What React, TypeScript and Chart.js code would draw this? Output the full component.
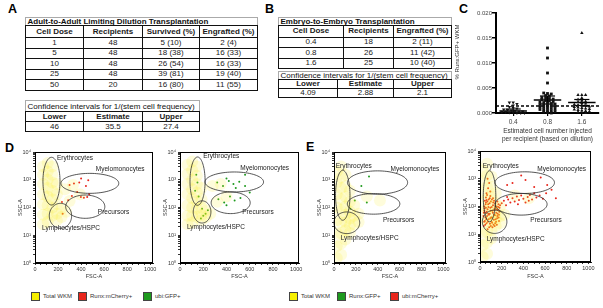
import React, { useEffect, useRef } from 'react';
import { Chart, registerables } from 'chart.js';

Chart.register(...registerables);

const FONT = "'Liberation Sans', Arial, Helvetica, sans-serif";
Chart.defaults.font.family = FONT;

// ---------- Panel A ----------
const adultTitle = 'Adult-to-Adult Limiting Dilution Transplantation';
const adultHeaders = ['Cell Dose', 'Recipients', 'Survived (%)', 'Engrafted (%)'];
const adultDoses = ['1', '5', '10', '25', '50'];
const adultRecipients = ['48', '48', '48', '48', '20'];
const adultSurvived = ['5 (10)', '18 (38)', '26 (54)', '39 (81)', '16 (80)'];
const adultEngrafted = ['2 (4)', '16 (33)', '16 (33)', '19 (40)', '11 (55)'];
const ciTitle = 'Confidence intervals for 1/(stem cell frequency)';
const ciHeaders = ['Lower', 'Estimate', 'Upper'];
const adultCI = ['46', '35.5', '27.4'];

// ---------- Panel B ----------
const embryoTitle = 'Embryo-to-Embryo Transplantation';
const embryoHeaders = ['Cell Dose', 'Recipients', 'Engrafted (%)'];
const embryoDoses = ['0.4', '0.8', '1.6'];
const embryoRecipients = ['18', '26', '25'];
const embryoEngrafted = ['2 (11)', '11 (42)', '10 (40)'];
const embryoCI = ['4.09', '2.88', '2.1'];

// ---------- Panel C ----------
const cLabels = ['0.4', '0.8', '1.6'];
const dose04 = [0.0021, 0.0021, 0.0018, 0.0015, 0.0012, 0.001, 0.0009, 0.0007, 0.0006, 0.0005, 0.0004, 0.0003, 0.0003, 0.0002, 0.0002, 0.0001, 0.0001, 0.0, 0.0, 0.0];
const dose08 = [0.013, 0.011, 0.008, 0.006, 0.004, 0.0039, 0.0038, 0.0035, 0.0034, 0.0031, 0.003, 0.0029, 0.0028, 0.0027, 0.0025, 0.0024, 0.0023, 0.0022, 0.0021, 0.002, 0.0019, 0.0018, 0.0017, 0.0016, 0.0015, 0.0014, 0.0013, 0.0012, 0.0011, 0.001, 0.0009, 0.0008, 0.0007, 0.0006, 0.0005, 0.0004, 0.0003, 0.0002, 0.0001, 0.0];
const dose16 = [0.016, 0.0036, 0.0036, 0.0036, 0.003, 0.0027, 0.0025, 0.0023, 0.0022, 0.002, 0.0019, 0.0017, 0.0016, 0.0015, 0.0014, 0.0013, 0.0012, 0.0011, 0.001, 0.0009, 0.0008, 0.0007, 0.0006, 0.0005, 0.0004, 0.0003, 0.0002, 0.0001, 0.0];
const cMeans = [0.0004, 0.0026, 0.0021];
const cSems = [0.0004, 0.0008, 0.0006];
const cThreshold = 0.0014;
const cYTitle = '% Runx:GFP+ WKM';
const cXTitle = ['Estimated cell number injected', 'per recipient (based on dilution)'];

// ---------- Panels D / E (flow cytometry) ----------
const gateNames = ['Erythrocytes', 'Myelomonocytes', 'Precursors', 'Lymphocytes/HSPC'];
// gate: [centre FSC, radius FSC, centre log10 SSC, radius log10 SSC]
const gatesD1 = [[143, 74, 2.95, 0.86], [476, 251, 2.87, 0.36], [436, 170, 2.03, 0.42], [221, 97, 1.7, 0.45]];
const gatesD2 = [[151, 65, 2.95, 0.87], [467, 252, 2.92, 0.36], [436, 168, 2.17, 0.39], [190, 76, 1.84, 0.4]];
const gatesE1 = [[80, 66, 2.44, 0.9], [398, 275, 2.9, 0.42], [362, 240, 2.13, 0.37], [117, 118, 1.45, 0.39]];
const gatesE2 = [[88, 58, 2.37, 0.92], [413, 274, 2.86, 0.39], [379, 240, 2.08, 0.39], [135, 113, 1.45, 0.42]];
// gate label anchors: [FSC, log10 SSC]
const labelsD1 = [[190, 3.77], [528, 3.38], [545, 1.83], [61, 1.26]];
const labelsD2 = [[199, 3.85], [519, 3.41], [536, 1.83], [60, 1.29]];
const labelsE1 = [[16, 3.5], [517, 3.38], [447, 1.54], [61, 0.89]];
const labelsE2 = [[25, 3.47], [529, 3.35], [464, 1.51], [62, 0.82]];

const totalWkmD1 = [
  [70, 3000], [70, 1500], [70, 700], [70, 300], [70, 130], [70, 55], [70, 25],
  [110, 4000], [110, 2000], [110, 1000], [110, 500], [110, 250], [110, 120], [110, 60], [110, 30],
  [150, 3000], [150, 1500], [150, 800], [150, 400], [150, 200], [150, 100], [150, 50],
  [190, 700], [190, 300], [190, 130], [190, 60], [190, 35],
  [230, 90], [230, 45], [270, 70], [260, 450], [330, 650], [390, 300], [300, 170],
];
const totalWkmD2 = [
  [65, 3500], [65, 1600], [65, 700], [65, 300], [65, 120], [65, 50], [65, 25],
  [105, 4500], [105, 2200], [105, 1000], [105, 450], [105, 220], [105, 100], [105, 50], [105, 28],
  [145, 3000], [145, 1400], [145, 700], [145, 350], [145, 170], [145, 90], [145, 45],
  [185, 500], [185, 200], [185, 100], [185, 55], [185, 35],
  [225, 80], [225, 45], [260, 60], [280, 600], [350, 700], [400, 250], [320, 160],
];
const totalWkmE1 = [
  [25, 2000], [25, 800], [25, 300], [25, 100], [25, 35], [25, 12], [25, 4], [25, 1.5],
  [65, 3000], [65, 1200], [65, 500], [65, 200], [65, 80], [65, 30], [65, 12], [65, 5], [65, 2],
  [105, 1500], [105, 600], [105, 250], [105, 110], [105, 55], [105, 30], [105, 15], [105, 7],
  [145, 400], [145, 160], [145, 70], [145, 40], [145, 22], [145, 12],
  [185, 120], [185, 50], [185, 25], [225, 60], [225, 30], [300, 250], [420, 180],
];
const totalWkmE2 = [
  [25, 2000], [25, 800], [25, 300], [25, 100], [25, 35], [25, 12], [25, 4], [25, 1.5],
  [65, 3500], [65, 1300], [65, 500], [65, 200], [65, 80], [65, 30], [65, 12], [65, 5], [65, 2],
  [105, 1200], [105, 500], [105, 220], [105, 100], [105, 50], [105, 28], [105, 14], [105, 7],
  [145, 300], [145, 130], [145, 60], [145, 35], [145, 20],
  [185, 100], [185, 45], [185, 25], [225, 50], [320, 250], [450, 200],
];
const runxMCherryD1 = [
  [338, 730], [384, 790], [442, 590], [462, 960], [398, 240], [424, 225], [288, 183], [234, 158],
  [320, 257], [240, 60], [366, 363], [453, 240], [400, 1100], [300, 650], [470, 300],
];
const ubiGfpD2 = [
  [320, 800], [370, 600], [420, 900], [460, 700], [510, 850], [560, 600], [400, 1100], [480, 500],
  [330, 200], [380, 150], [430, 250], [470, 180], [520, 220], [400, 120],
  [140, 1500], [150, 800], [130, 400], [160, 250],
  [190, 90], [220, 60], [200, 50], [240, 80], [180, 40], [560, 1500], [600, 350],
];
const runxGfpE1 = [[320, 1300], [250, 600], [300, 150], [190, 180], [150, 90]];
const ubiMCherryE2 = [
  [35, 20], [45, 30], [50, 60], [40, 100], [55, 140], [60, 25], [65, 45], [70, 80], [75, 120], [80, 35],
  [85, 18], [90, 55], [95, 90], [100, 150], [105, 28], [110, 40], [115, 70], [120, 110], [125, 22], [130, 50],
  [135, 85], [140, 130], [145, 35], [150, 60], [155, 100], [160, 45], [165, 75], [170, 120], [175, 30], [180, 90],
  [60, 170], [90, 200], [110, 180], [50, 40], [70, 15], [100, 20], [140, 25], [40, 70], [130, 160], [160, 150],
  [32, 45], [38, 28], [42, 85], [48, 22], [52, 120], [58, 35], [62, 65], [68, 150], [72, 28], [78, 95],
  [82, 50], [88, 130], [92, 24], [98, 70], [102, 40], [108, 95], [112, 26], [118, 60], [122, 140], [128, 33],
  [132, 75], [138, 48], [142, 100], [148, 28], [152, 80], [158, 38], [162, 55], [168, 95], [172, 40], [178, 65],
  [45, 160], [55, 210], [65, 260], [80, 180], [95, 240], [120, 200], [35, 60], [55, 90], [75, 55], [95, 38],
  [115, 18], [135, 20], [155, 22], [175, 50], [185, 110],
  [200, 130], [220, 160], [240, 110], [260, 180], [280, 140], [300, 200], [320, 150], [340, 230], [360, 170],
  [380, 250], [400, 190], [420, 140], [440, 220], [460, 260], [480, 180], [500, 300], [520, 210], [550, 250],
  [580, 190], [610, 300], [250, 220], [350, 120], [450, 160],
  [60, 300], [75, 450], [85, 700], [70, 1000], [95, 350],
  [300, 700], [420, 900], [560, 1100], [620, 600], [500, 500], [380, 1300], [700, 200], [660, 400], [250, 600],
];

const legendD = ['Total WKM', 'Runx:mCherry+', 'ubi:GFP+'];
const legendE = ['Total WKM', 'Runx:GFP+', 'ubi:mCherry+'];

const YELLOW = '#f7f000';
const RED = '#e8261c';
const GREEN = '#1e9a1e';
const SUP = ['\u2070', '\u00b9', '\u00b2', '\u00b3', '\u2074'];

// ---------- helpers ----------
function swarm(vals: number[], centre: number, bin: number, step: number) {
  const rows = new Map<number, number[]>();
  vals.forEach((v) => {
    const k = Math.round(v / bin);
    if (!rows.has(k)) rows.set(k, []);
    rows.get(k)!.push(v);
  });
  const pts: any[] = [];
  rows.forEach((list) => {
    const n = list.length;
    list.forEach((v, i) => pts.push({ x: centre + (i - (n - 1) / 2) * step, y: v }));
  });
  return pts;
}

function lineDs(pts: number[][], w: number) {
  return {
    data: pts.map(([x, y]) => ({ x, y })),
    showLine: true,
    pointRadius: 0,
    borderColor: '#000',
    backgroundColor: '#000',
    borderWidth: w,
    fill: false,
    clip: false,
  };
}

function ChartC() {
  const ref = useRef<HTMLCanvasElement>(null);
  useEffect(() => {
    const groups = [dose04, dose08, dose16];
    const styles = ['triangle', 'rect', 'triangle'];
    const rots = [180, 0, 0];
    const ds: any[] = [];
    groups.forEach((vals, g) => {
      const c = g + 0.5;
      ds.push({
        data: swarm(vals, c, 0.0005, 0.11),
        pointStyle: styles[g],
        rotation: rots[g],
        pointRadius: 2,
        backgroundColor: '#111',
        borderColor: '#111',
        borderWidth: 0,
        clip: false,
      });
      const m = cMeans[g];
      const s = cSems[g];
      ds.push(lineDs([[c - 0.4, m], [c + 0.4, m]], 1.5));
      ds.push(lineDs([[c - 0.22, m + s], [c + 0.22, m + s]], 1.2));
      ds.push(lineDs([[c - 0.22, m - s], [c + 0.22, m - s]], 1.2));
      ds.push(lineDs([[c, m - s], [c, m + s]], 1.2));
    });
    ds.push({ ...lineDs([[0, cThreshold], [3, cThreshold]], 1.3), borderDash: [3, 2] });

    const yTitlePlugin = {
      id: 'cYTitle',
      afterDraw(chart: any) {
        const ctx = chart.ctx;
        ctx.save();
        ctx.translate(42, 52);
        ctx.rotate(-Math.PI / 2);
        ctx.font = `6px ${FONT}`;
        ctx.fillStyle = '#333';
        ctx.textAlign = 'center';
        ctx.textBaseline = 'middle';
        ctx.fillText(cYTitle, 0, 0);
        ctx.restore();
      },
    };

    const chart = new Chart(ref.current!, {
      type: 'scatter',
      data: { datasets: ds },
      options: {
        responsive: false,
        animation: false,
        devicePixelRatio: 1,
        layout: { padding: { top: 13, right: 2, left: 0, bottom: 0 } },
        plugins: { legend: { display: false }, tooltip: { enabled: false } },
        scales: {
          x: {
            type: 'linear',
            min: 0,
            max: 3,
            afterFit: (s: any) => { s.height = 31; },
            afterBuildTicks: (s: any) => { s.ticks = cLabels.map((_, i) => ({ value: i + 0.5 })); },
            ticks: {
              autoSkip: false,
              maxRotation: 0,
              padding: 2,
              color: '#444',
              font: { size: 6.5 },
              callback: (v: any) => cLabels[Math.round(Number(v) - 0.5)] ?? '',
            },
            grid: { drawOnChartArea: false, tickLength: 3, color: '#000', lineWidth: 1.2 },
            border: { color: '#000', width: 2 },
            title: { display: true, text: cXTitle, color: '#333', font: { size: 6.5 }, padding: { top: 0, bottom: 1 } },
          },
          y: {
            min: 0,
            max: 0.02,
            afterFit: (s: any) => { s.width = 81; },
            ticks: {
              stepSize: 0.005,
              padding: 0,
              color: '#444',
              font: { size: 6 },
              callback: (v: any) => Number(v).toFixed(3),
            },
            grid: { drawOnChartArea: false, tickLength: 4, color: '#000', lineWidth: 1.5 },
            border: { color: '#000', width: 2 },
            title: { display: false },
          },
        },
      } as any,
      plugins: [yTitlePlugin],
    });
    return () => chart.destroy();
  }, []);
  return <canvas ref={ref} width={188} height={144} style={{ position: 'absolute', left: 415, top: 0, width: 188, height: 144 }} />;
}

const flowXTicks: number[] = [];
for (let v = 0; v <= 1000; v += 50) flowXTicks.push(v);
const flowYTicks: number[] = [];
for (let e = 0; e < 4; e++) for (let m = 1; m < 10; m++) flowYTicks.push(m * Math.pow(10, e));
flowYTicks.push(10000);

function FlowPlot({ frame, wkm, dots, dotColor, gates, labels }: any) {
  const ref = useRef<HTMLCanvasElement>(null);
  const [L, R, T, B] = frame;
  const cl = L - 20;
  const ct = 145;
  const cw = R + 8 - cl;
  const ch = 280 - ct;
  useEffect(() => {
    const gatePlugin = {
      id: 'gatesDraw',
      afterDatasetsDraw(chart: any) {
        const { ctx, scales } = chart;
        const x = scales.x;
        const y = scales.y;
        ctx.save();
        ctx.strokeStyle = '#2a2a2a';
        ctx.lineWidth = 0.8;
        gates.forEach(([cx, rx, cy, ry]: number[]) => {
          ctx.beginPath();
          for (let i = 0; i <= 80; i++) {
            const t = (i / 80) * Math.PI * 2;
            const px = x.getPixelForValue(cx + rx * Math.cos(t));
            const py = y.getPixelForValue(Math.pow(10, cy + ry * Math.sin(t)));
            if (i === 0) ctx.moveTo(px, py);
            else ctx.lineTo(px, py);
          }
          ctx.closePath();
          ctx.stroke();
        });
        ctx.fillStyle = '#222';
        ctx.font = `6.5px ${FONT}`;
        ctx.textBaseline = 'middle';
        ctx.textAlign = 'left';
        labels.forEach(([lx, ly]: number[], i: number) => {
          ctx.fillText(gateNames[i], x.getPixelForValue(lx), y.getPixelForValue(Math.pow(10, ly)));
        });
        const a = chart.chartArea;
        ctx.strokeStyle = '#000';
        ctx.lineWidth = 1;
        ctx.strokeRect(a.left + 0.5, a.top + 0.5, a.right - a.left - 1, a.bottom - a.top - 1);
        ctx.restore();
      },
    };
    const chart = new Chart(ref.current!, {
      type: 'scatter',
      data: {
        datasets: [
          {
            data: wkm.map(([x, y]: number[]) => ({ x, y })),
            pointRadius: 6,
            backgroundColor: 'rgba(248,236,30,0.16)',
            borderWidth: 0,
            clip: 0,
          },
          {
            data: dots.map(([x, y]: number[]) => ({ x, y })),
            pointRadius: 1,
            backgroundColor: dotColor,
            borderWidth: 0,
            clip: 0,
          },
        ],
      },
      options: {
        responsive: false,
        animation: false,
        devicePixelRatio: 1,
        layout: { padding: { top: T - ct, right: cw - (R - cl), left: 0, bottom: 0 } },
        plugins: { legend: { display: false }, tooltip: { enabled: false } },
        scales: {
          x: {
            type: 'linear',
            min: 0,
            max: 1024,
            afterFit: (s: any) => { s.height = 280 - B; },
            afterBuildTicks: (s: any) => { s.ticks = flowXTicks.map((v) => ({ value: v })); },
            ticks: {
              autoSkip: false,
              maxRotation: 0,
              padding: 1,
              color: '#333',
              font: { size: 5.5 },
              callback: (v: any) => (Number(v) % 200 === 0 ? String(v) : ''),
            },
            grid: { drawOnChartArea: false, tickLength: 2, color: '#000', lineWidth: 0.8 },
            border: { color: '#000', width: 1 },
            title: { display: true, text: 'FSC-A', color: '#333', font: { size: 5.5 }, padding: { top: 0, bottom: 0.5 } },
          },
          y: {
            type: 'logarithmic',
            min: 1,
            max: 10000,
            afterFit: (s: any) => { s.width = 20; },
            afterBuildTicks: (s: any) => { s.ticks = flowYTicks.map((v) => ({ value: v })); },
            ticks: {
              autoSkip: false,
              padding: 2,
              color: '#333',
              font: { size: 5.5 },
              callback: (v: any) => {
                const e = Math.round(Math.log10(Number(v)));
                return Math.abs(Number(v) - Math.pow(10, e)) < 1e-6 ? '10' + SUP[e] : '';
              },
            },
            grid: { drawOnChartArea: false, tickLength: 2, color: '#000', lineWidth: 0.8 },
            border: { color: '#000', width: 1 },
            title: { display: true, text: 'SSC-A', color: '#333', font: { size: 5.5 }, padding: { top: 2, bottom: 0 } },
          },
        },
      } as any,
      plugins: [gatePlugin],
    });
    return () => chart.destroy();
  }, []);
  return <canvas ref={ref} width={cw} height={ch} style={{ position: 'absolute', left: cl, top: ct, width: cw, height: ch }} />;
}

// ---------- tables ----------
function TitleRow({ left, top, width, height, text, bold }: any) {
  return (
    <div
      style={{
        position: 'absolute', left, top, width: width + 1, height: height + 1, boxSizing: 'border-box',
        border: '1px solid #aaa', borderBottom: 'none', fontSize: 8, fontWeight: bold ? 700 : 400, color: '#111',
        lineHeight: `${height}px`, paddingLeft: 1.5, whiteSpace: 'nowrap', overflow: 'visible',
      }}
    >
      {text}
    </div>
  );
}

function Grid({ left, top, widths, heights, rows }: any) {
  const els: any[] = [];
  let y = top;
  rows.forEach((row: string[], ri: number) => {
    let x = left;
    row.forEach((txt, ci) => {
      els.push(
        <div
          key={`${ri}-${ci}`}
          style={{
            position: 'absolute', left: x, top: y, width: widths[ci] + 1, height: heights[ri] + 1, boxSizing: 'border-box',
            border: '1px solid #111', display: 'flex', alignItems: 'center', justifyContent: 'center',
            fontSize: 8, fontWeight: ri === 0 ? 700 : 400, color: '#1a1a1a', lineHeight: 1, whiteSpace: 'nowrap',
          }}
        >
          {txt}
        </div>
      );
      x += widths[ci];
    });
    y += heights[ri];
  });
  return <>{els}</>;
}

function Letter({ ch, left, top }: any) {
  return (
    <div style={{ position: 'absolute', left, top, fontSize: 12.5, fontWeight: 700, lineHeight: 1, color: '#000' }}>{ch}</div>
  );
}

function LegendItem({ left, color, text }: any) {
  return (
    <>
      <div style={{ position: 'absolute', left, top: 292, width: 9, height: 9, boxSizing: 'border-box', background: color, border: '1px solid #444' }} />
      <div style={{ position: 'absolute', left: left + 12, top: 293, fontSize: 6, lineHeight: '7px', color: '#333', whiteSpace: 'nowrap' }}>{text}</div>
    </>
  );
}

export default function App() {
  const aWidths = [58, 59, 57, 58];
  const aRows = [adultHeaders, ...adultDoses.map((d, i) => [d, adultRecipients[i], adultSurvived[i], adultEngrafted[i]])];
  const bWidths = [65, 50, 58];
  const bRows = [embryoHeaders, ...embryoDoses.map((d, i) => [d, embryoRecipients[i], embryoEngrafted[i]])];
  return (
    <div style={{ position: 'fixed', left: 0, top: 0, width: 603, height: 308, background: '#fff', fontFamily: FONT, overflow: 'hidden' }}>
      <Letter ch="A" left={8} top={3.4} />
      <Letter ch="B" left={265} top={3.4} />
      <Letter ch="C" left={459} top={3.4} />
      <Letter ch="D" left={5} top={142.4} />
      <Letter ch="E" left={306} top={141.4} />

      <TitleRow left={25} top={17} width={232} height={8} text={adultTitle} bold />
      <Grid left={25} top={25} widths={aWidths} heights={[12, 10.5, 10.5, 10.5, 10.5, 10.5]} rows={aRows} />
      <TitleRow left={25} top={100} width={174} height={11} text={ciTitle} />
      <Grid left={25} top={111} widths={[58, 59, 57]} heights={[10, 10]} rows={[ciHeaders, adultCI]} />

      <TitleRow left={278} top={17} width={173} height={8} text={embryoTitle} bold />
      <Grid left={278} top={25} widths={bWidths} heights={[11.5, 10.5, 10.5, 10.5]} rows={bRows} />
      <TitleRow left={278} top={71} width={173} height={8} text={ciTitle} />
      <Grid left={278} top={79} widths={[59, 56, 58]} heights={[9, 9]} rows={[ciHeaders, embryoCI]} />

      <ChartC />

      <FlowPlot frame={[35, 153, 152, 263]} wkm={totalWkmD1} dots={runxMCherryD1} dotColor={RED} gates={gatesD1} labels={labelsD1} />
      <FlowPlot frame={[180, 299, 152, 263]} wkm={totalWkmD2} dots={ubiGfpD2} dotColor={GREEN} gates={gatesD2} labels={labelsD2} />
      <FlowPlot frame={[334, 446, 152, 263]} wkm={totalWkmE1} dots={runxGfpE1} dotColor={GREEN} gates={gatesE1} labels={labelsE1} />
      <FlowPlot frame={[480, 591, 151, 262]} wkm={totalWkmE2} dots={ubiMCherryE2} dotColor={RED} gates={gatesE2} labels={labelsE2} />

      <LegendItem left={31} color={YELLOW} text={legendD[0]} />
      <LegendItem left={78} color={RED} text={legendD[1]} />
      <LegendItem left={143} color={GREEN} text={legendD[2]} />
      <LegendItem left={289} color={YELLOW} text={legendE[0]} />
      <LegendItem left={337} color={GREEN} text={legendE[1]} />
      <LegendItem left={390} color={RED} text={legendE[2]} />
    </div>
  );
}
